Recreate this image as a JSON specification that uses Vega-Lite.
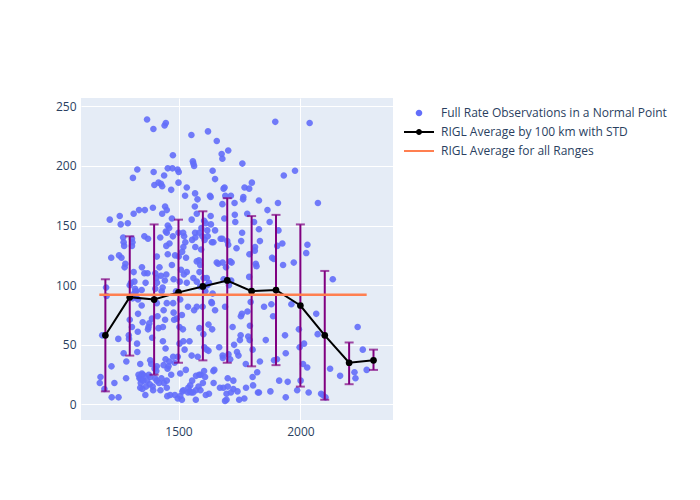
{
  "$schema": "https://vega.github.io/schema/vega-lite/v6.json",
  "width": 312,
  "height": 322,
  "autosize": {"type": "none"},
  "padding": {"left": 81, "top": 98, "right": 307, "bottom": 80},
  "background": "white",
  "config": {
    "font": "Open Sans",
    "view": {"fill": "#E5ECF6", "stroke": null},
    "axis": {"labelColor": "#2a3f5f", "labelFontSize": 12, "gridColor": "white", "gridWidth": 1, "domain": false, "ticks": false, "title": null},
    "legend": {"symbolStrokeWidth": 0, "labelFontSize": 12, "labelColor": "#2a3f5f", "labelLimit": 400, "symbolOpacity": 1}
  },
  "datasets": {
    "pts": [
      {"x":1180,"y":23},{"x":1177,"y":18},{"x":1187,"y":58},{"x":1203,"y":98},{"x":1205,"y":91},{"x":1196,"y":13},{"x":1218,"y":155},{"x":1224,"y":123},{"x":1225,"y":32},{"x":1237,"y":18},{"x":1226,"y":6},{"x":1254,"y":6},{"x":1253,"y":55},{"x":1259,"y":158},{"x":1256,"y":125},{"x":1263,"y":151},{"x":1266,"y":123},{"x":1273,"y":140},{"x":1275,"y":136},{"x":1277,"y":133},{"x":1279,"y":115},{"x":1282,"y":118},{"x":1275,"y":43},{"x":1285,"y":22},{"x":1286,"y":36},{"x":1292,"y":152},{"x":1296,"y":58},{"x":1297,"y":55},{"x":1300,"y":71},{"x":1300,"y":100},{"x":1305,"y":102},{"x":1309,"y":133},{"x":1311,"y":136},{"x":1309,"y":139},{"x":1309,"y":65},{"x":1313,"y":190},{"x":1316,"y":160},{"x":1316,"y":111},{"x":1319,"y":103},{"x":1323,"y":95},{"x":1331,"y":197},{"x":1327,"y":95},{"x":1331,"y":44},{"x":1330,"y":51},{"x":1333,"y":61},{"x":1334,"y":76},{"x":1338,"y":163},{"x":1342,"y":23},{"x":1343,"y":34},{"x":1350,"y":115},{"x":1349,"y":96},{"x":1349,"y":83},{"x":1353,"y":69},{"x":1353,"y":25},{"x":1347,"y":21},{"x":1343,"y":14},{"x":1362,"y":163},{"x":1360,"y":141},{"x":1360,"y":110},{"x":1365,"y":102},{"x":1364,"y":8},{"x":1371,"y":239},{"x":1367,"y":15},{"x":1371,"y":20},{"x":1373,"y":110},{"x":1375,"y":139},{"x":1375,"y":63},{"x":1377,"y":65},{"x":1380,"y":68},{"x":1384,"y":37},{"x":1388,"y":34},{"x":1384,"y":23},{"x":1391,"y":72},{"x":1392,"y":56},{"x":1397,"y":231},{"x":1398,"y":195},{"x":1401,"y":184},{"x":1395,"y":165},{"x":1405,"y":97},{"x":1394,"y":15},{"x":1409,"y":106},{"x":1411,"y":85},{"x":1411,"y":124},{"x":1414,"y":74},{"x":1411,"y":32},{"x":1409,"y":28},{"x":1411,"y":20},{"x":1418,"y":64},{"x":1418,"y":186},{"x":1425,"y":140},{"x":1428,"y":185},{"x":1433,"y":183},{"x":1433,"y":160},{"x":1431,"y":95},{"x":1436,"y":53},{"x":1436,"y":65},{"x":1439,"y":79},{"x":1439,"y":33},{"x":1440,"y":18},{"x":1441,"y":192},{"x":1443,"y":234},{"x":1448,"y":236},{"x":1445,"y":166},{"x":1452,"y":163},{"x":1448,"y":145},{"x":1452,"y":144},{"x":1450,"y":133},{"x":1450,"y":109},{"x":1452,"y":85},{"x":1445,"y":71},{"x":1447,"y":47},{"x":1447,"y":38},{"x":1452,"y":20},{"x":1452,"y":14},{"x":1454,"y":7},{"x":1456,"y":198},{"x":1456,"y":150},{"x":1456,"y":126},{"x":1462,"y":148},{"x":1463,"y":135},{"x":1459,"y":32},{"x":1466,"y":8},{"x":1470,"y":180},{"x":1473,"y":156},{"x":1477,"y":209},{"x":1475,"y":198},{"x":1473,"y":117},{"x":1477,"y":141},{"x":1480,"y":105},{"x":1478,"y":85},{"x":1480,"y":77},{"x":1482,"y":71},{"x":1484,"y":35},{"x":1485,"y":8},{"x":1486,"y":125},{"x":1490,"y":95},{"x":1493,"y":72},{"x":1496,"y":197},{"x":1497,"y":40},{"x":1497,"y":5},{"x":1501,"y":195},{"x":1500,"y":186},{"x":1500,"y":144},{"x":1501,"y":124},{"x":1504,"y":65},{"x":1504,"y":51},{"x":1507,"y":88},{"x":1507,"y":26},{"x":1507,"y":7},{"x":1514,"y":4},{"x":1514,"y":75},{"x":1518,"y":63},{"x":1519,"y":144},{"x":1520,"y":132},{"x":1523,"y":141},{"x":1520,"y":53},{"x":1525,"y":46},{"x":1516,"y":11},{"x":1520,"y":12},{"x":1530,"y":29},{"x":1534,"y":182},{"x":1527,"y":175},{"x":1531,"y":123},{"x":1534,"y":111},{"x":1534,"y":102},{"x":1539,"y":82},{"x":1539,"y":10},{"x":1545,"y":53},{"x":1548,"y":16},{"x":1552,"y":10},{"x":1553,"y":226},{"x":1554,"y":155},{"x":1554,"y":41},{"x":1556,"y":138},{"x":1559,"y":204},{"x":1561,"y":202},{"x":1564,"y":200},{"x":1561,"y":106},{"x":1564,"y":79},{"x":1567,"y":166},{"x":1568,"y":177},{"x":1568,"y":144},{"x":1569,"y":140},{"x":1569,"y":132},{"x":1571,"y":12},{"x":1571,"y":4},{"x":1575,"y":160},{"x":1575,"y":120},{"x":1575,"y":103},{"x":1575,"y":82},{"x":1572,"y":24},{"x":1578,"y":172},{"x":1579,"y":40},{"x":1582,"y":15},{"x":1584,"y":121},{"x":1586,"y":111},{"x":1586,"y":64},{"x":1589,"y":117},{"x":1589,"y":99},{"x":1591,"y":25},{"x":1594,"y":148},{"x":1598,"y":141},{"x":1599,"y":82},{"x":1602,"y":59},{"x":1605,"y":154},{"x":1606,"y":48},{"x":1609,"y":23},{"x":1612,"y":8},{"x":1616,"y":106},{"x":1616,"y":46},{"x":1618,"y":146},{"x":1621,"y":229},{"x":1623,"y":67},{"x":1623,"y":45},{"x":1625,"y":9},{"x":1629,"y":175},{"x":1632,"y":174},{"x":1632,"y":158},{"x":1633,"y":151},{"x":1635,"y":86},{"x":1637,"y":85},{"x":1638,"y":63},{"x":1640,"y":196},{"x":1637,"y":136},{"x":1643,"y":136},{"x":1643,"y":28},{"x":1644,"y":18},{"x":1647,"y":29},{"x":1650,"y":189},{"x":1650,"y":79},{"x":1650,"y":146},{"x":1657,"y":221},{"x":1657,"y":119},{"x":1663,"y":118},{"x":1667,"y":48},{"x":1670,"y":14},{"x":1673,"y":139},{"x":1677,"y":210},{"x":1680,"y":206},{"x":1680,"y":168},{"x":1681,"y":119},{"x":1680,"y":139},{"x":1681,"y":41},{"x":1682,"y":39},{"x":1684,"y":14},{"x":1685,"y":181},{"x":1689,"y":182},{"x":1688,"y":156},{"x":1691,"y":82},{"x":1691,"y":3},{"x":1692,"y":175},{"x":1697,"y":4},{"x":1697,"y":9},{"x":1702,"y":22},{"x":1702,"y":15},{"x":1704,"y":213},{"x":1704,"y":134},{"x":1707,"y":100},{"x":1715,"y":175},{"x":1715,"y":10},{"x":1718,"y":119},{"x":1722,"y":65},{"x":1725,"y":20},{"x":1725,"y":13},{"x":1730,"y":169},{"x":1731,"y":159},{"x":1733,"y":153},{"x":1738,"y":131},{"x":1742,"y":11},{"x":1746,"y":41},{"x":1749,"y":4},{"x":1752,"y":54},{"x":1756,"y":74},{"x":1757,"y":137},{"x":1760,"y":76},{"x":1761,"y":144},{"x":1762,"y":202},{"x":1765,"y":172},{"x":1766,"y":174},{"x":1770,"y":5},{"x":1771,"y":182},{"x":1776,"y":34},{"x":1777,"y":14},{"x":1782,"y":160},{"x":1783,"y":78},{"x":1786,"y":57},{"x":1790,"y":107},{"x":1790,"y":181},{"x":1791,"y":126},{"x":1792,"y":54},{"x":1793,"y":66},{"x":1796,"y":86},{"x":1801,"y":186},{"x":1804,"y":46},{"x":1804,"y":23},{"x":1806,"y":16},{"x":1810,"y":153},{"x":1813,"y":129},{"x":1814,"y":132},{"x":1817,"y":118},{"x":1820,"y":116},{"x":1823,"y":27},{"x":1826,"y":10},{"x":1830,"y":10},{"x":1830,"y":171},{"x":1830,"y":147},{"x":1834,"y":137},{"x":1834,"y":36},{"x":1851,"y":82},{"x":1858,"y":54},{"x":1865,"y":163},{"x":1874,"y":153},{"x":1877,"y":11},{"x":1881,"y":84},{"x":1884,"y":123},{"x":1888,"y":74},{"x":1891,"y":122},{"x":1892,"y":37},{"x":1897,"y":237},{"x":1904,"y":38},{"x":1905,"y":133},{"x":1908,"y":169},{"x":1910,"y":146},{"x":1913,"y":20},{"x":1926,"y":135},{"x":1929,"y":117},{"x":1932,"y":192},{"x":1937,"y":58},{"x":1940,"y":43},{"x":1940,"y":6},{"x":1948,"y":19},{"x":1963,"y":84},{"x":1973,"y":119},{"x":1978,"y":196},{"x":1987,"y":12},{"x":1994,"y":63},{"x":1997,"y":48},{"x":2001,"y":20},{"x":2011,"y":34},{"x":2015,"y":51},{"x":2024,"y":127},{"x":2029,"y":134},{"x":2028,"y":31},{"x":2034,"y":10},{"x":2038,"y":236},{"x":2072,"y":169},{"x":2065,"y":76},{"x":2071,"y":59},{"x":2085,"y":9},{"x":2092,"y":8},{"x":2103,"y":6},{"x":2122,"y":30},{"x":2133,"y":105},{"x":2163,"y":24},{"x":2222,"y":27},{"x":2226,"y":22},{"x":2235,"y":65},{"x":2256,"y":46},{"x":2272,"y":29},
      {"x":1340,"y":22},{"x":1345,"y":18},{"x":1350,"y":26},{"x":1356,"y":20},{"x":1360,"y":24},{"x":1336,"y":25},{"x":1352,"y":13},{"x":1378,"y":25},{"x":1382,"y":17},{"x":1396,"y":12},{"x":1402,"y":30},{"x":1404,"y":22},{"x":1420,"y":18},{"x":1426,"y":12},{"x":1430,"y":22},
      {"x":1312,"y":89},{"x":1318,"y":93},{"x":1326,"y":90},{"x":1334,"y":88},{"x":1322,"y":97},
      {"x":1405,"y":110},{"x":1412,"y":102},{"x":1422,"y":115},{"x":1428,"y":108},{"x":1435,"y":98},{"x":1444,"y":104},
      {"x":1455,"y":30},{"x":1462,"y":36},{"x":1470,"y":25},{"x":1478,"y":40},
      {"x":1505,"y":103},{"x":1510,"y":113},{"x":1515,"y":128},{"x":1522,"y":109},{"x":1528,"y":136},
      {"x":1540,"y":14},{"x":1546,"y":11},{"x":1556,"y":20},{"x":1560,"y":10},
      {"x":1585,"y":25},{"x":1590,"y":12},{"x":1600,"y":18},{"x":1605,"y":28},
      {"x":1585,"y":144},{"x":1593,"y":130},{"x":1607,"y":138},{"x":1612,"y":152},{"x":1620,"y":141},
      {"x":1603,"y":106},{"x":1610,"y":95},{"x":1618,"y":100},{"x":1625,"y":102},{"x":1640,"y":93},
      {"x":1685,"y":105},{"x":1695,"y":115},{"x":1700,"y":137},{"x":1712,"y":120},{"x":1716,"y":104},
      {"x":1705,"y":42},{"x":1712,"y":38},{"x":1728,"y":50},{"x":1740,"y":44},{"x":1755,"y":58}
    ],
    "avg": [
      {"x":1200,"mean":58,"lo":11,"hi":105},
      {"x":1300,"mean":90,"lo":41,"hi":141},
      {"x":1400,"mean":88,"lo":25,"hi":151},
      {"x":1500,"mean":94,"lo":35,"hi":155},
      {"x":1600,"mean":99,"lo":37,"hi":162},
      {"x":1700,"mean":104,"lo":35,"hi":173},
      {"x":1800,"mean":95,"lo":32,"hi":158},
      {"x":1900,"mean":96,"lo":33,"hi":159},
      {"x":2000,"mean":83,"lo":15,"hi":151},
      {"x":2100,"mean":58,"lo":4,"hi":112},
      {"x":2200,"mean":35,"lo":17,"hi":52},
      {"x":2300,"mean":37,"lo":29,"hi":46}
    ],
    "all": [
      {"x":1175,"x2":2272,"y":92}
    ]
  },
  "layer": [
    {
      "data": {"name": "pts"},
      "mark": {"type": "point", "filled": true, "size": 100, "opacity": 0.9, "strokeWidth": 0},
      "encoding": {
        "x": {"field": "x", "type": "quantitative", "scale": {"domain": [1100, 2380], "nice": false, "zero": false}, "axis": {"values": [1500, 2000], "format": "d", "labelPadding": 6}},
        "y": {"field": "y", "type": "quantitative", "scale": {"domain": [-13, 257], "nice": false, "zero": false}, "axis": {"values": [0, 50, 100, 150, 200, 250], "labelPadding": 5}},
        "color": {"datum": "Full Rate Observations in a Normal Point", "type": "nominal",
          "scale": {"domain": ["Full Rate Observations in a Normal Point", "RIGL Average by 100 km with STD", "RIGL Average for all Ranges"], "range": ["#636EFA", "#000000", "#FF7F50"]},
          "legend": {"title": null, "orient": "none", "legendX": 332, "legendY": 9, "labelOffset": 16, "rowPadding": 7, "symbolSize": 100}
        },
        "shape": {"datum": "Full Rate Observations in a Normal Point", "type": "nominal",
          "scale": {"domain": ["Full Rate Observations in a Normal Point", "RIGL Average by 100 km with STD", "RIGL Average for all Ranges"],
            "range": ["M0.66,0A0.66,0.66 0 1,1 -0.66,0A0.66,0.66 0 1,1 0.66,0Z", "M-3,-0.2L3,-0.2L3,0.2L-3,0.2Z M0.6,0A0.6,0.6 0 1,1 -0.6,0A0.6,0.6 0 1,1 0.6,0Z", "M-3,-0.2L3,-0.2L3,0.2L-3,0.2Z"]},
          "legend": {"title": null, "orient": "none", "legendX": 332, "legendY": 9, "labelOffset": 16, "rowPadding": 7, "symbolSize": 100}
        }
      }
    },
    {
      "data": {"name": "avg"},
      "mark": {"type": "rule", "color": "#800080", "strokeWidth": 2},
      "encoding": {
        "x": {"field": "x", "type": "quantitative"},
        "y": {"field": "lo", "type": "quantitative"},
        "y2": {"field": "hi"}
      }
    },
    {
      "data": {"name": "avg"},
      "mark": {"type": "tick", "orient": "horizontal", "color": "#800080", "size": 9, "thickness": 2},
      "encoding": {
        "x": {"field": "x", "type": "quantitative"},
        "y": {"field": "lo", "type": "quantitative"}
      }
    },
    {
      "data": {"name": "avg"},
      "mark": {"type": "tick", "orient": "horizontal", "color": "#800080", "size": 9, "thickness": 2},
      "encoding": {
        "x": {"field": "x", "type": "quantitative"},
        "y": {"field": "hi", "type": "quantitative"}
      }
    },
    {
      "data": {"name": "avg"},
      "mark": {"type": "line", "strokeWidth": 2, "point": {"filled": true, "size": 45, "color": "black"}},
      "encoding": {
        "x": {"field": "x", "type": "quantitative"},
        "y": {"field": "mean", "type": "quantitative"},
        "color": {"datum": "RIGL Average by 100 km with STD", "type": "nominal"}
      }
    },
    {
      "data": {"name": "all"},
      "mark": {"type": "rule", "strokeWidth": 2.5},
      "encoding": {
        "x": {"field": "x", "type": "quantitative"},
        "x2": {"field": "x2"},
        "y": {"field": "y", "type": "quantitative"},
        "color": {"datum": "RIGL Average for all Ranges", "type": "nominal"}
      }
    }
  ]
}
